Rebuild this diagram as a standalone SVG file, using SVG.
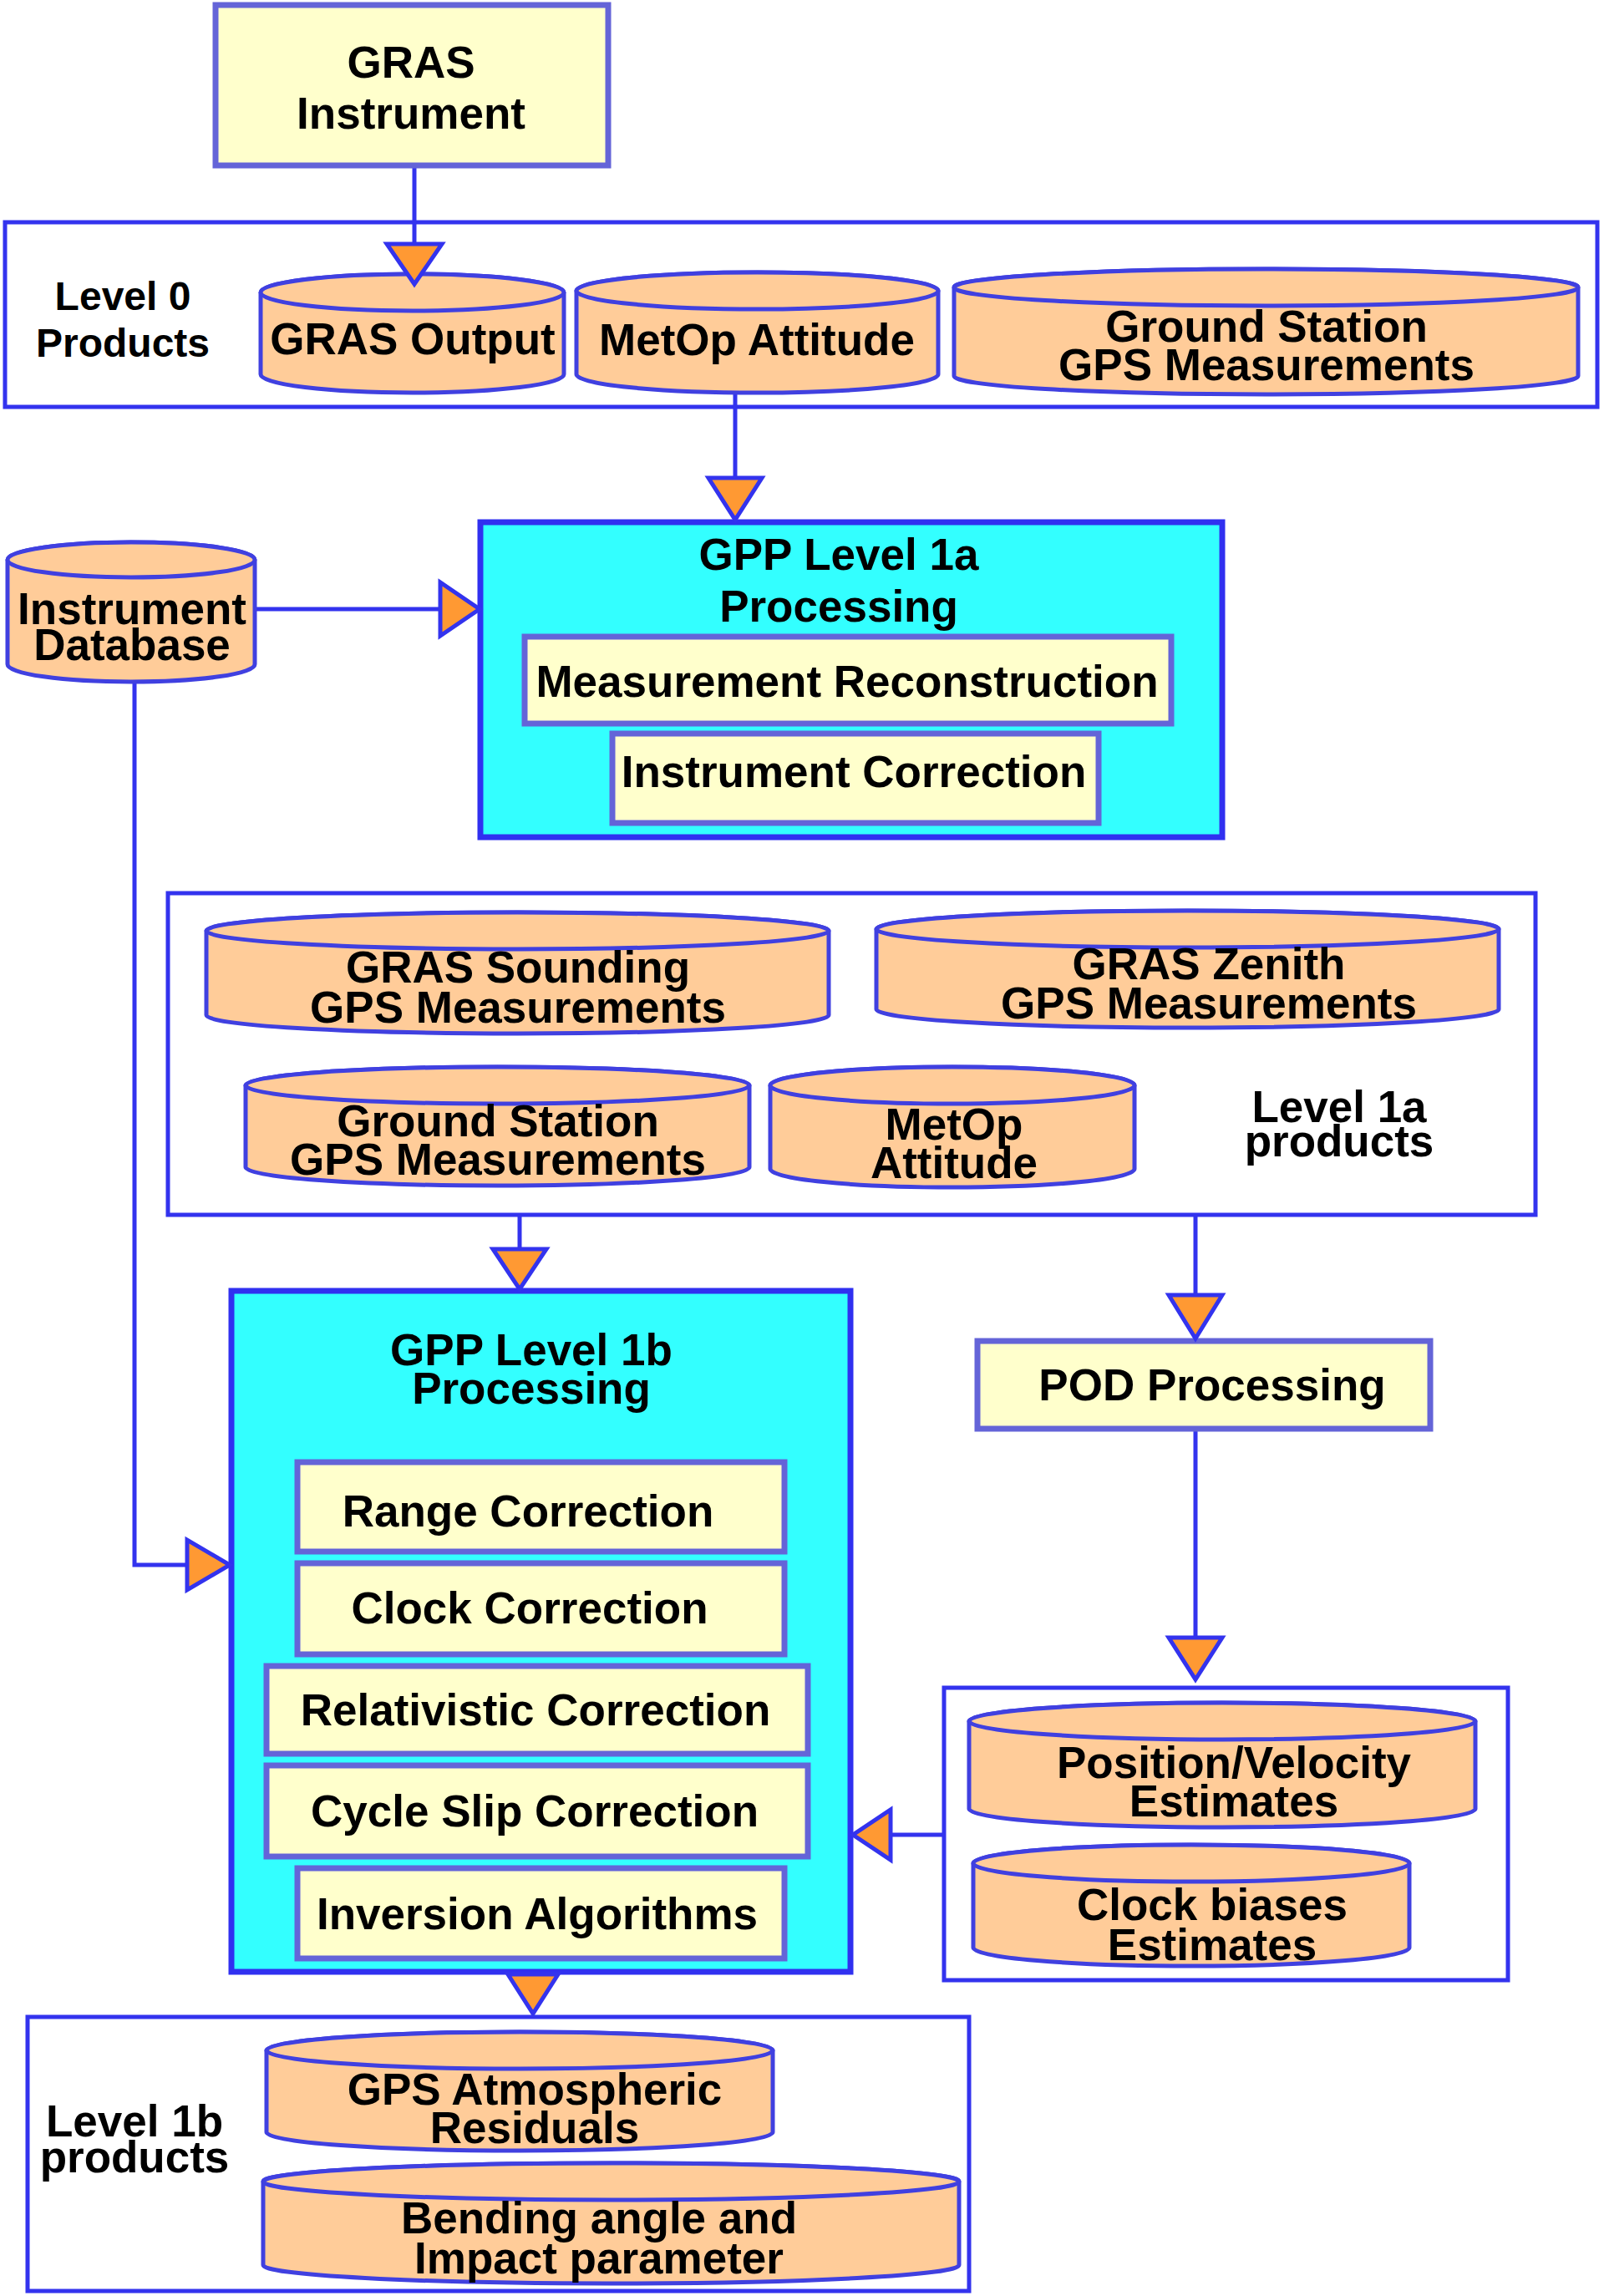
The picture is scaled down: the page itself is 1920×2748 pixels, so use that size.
<svg xmlns="http://www.w3.org/2000/svg" width="1920" height="2748" viewBox="0 0 1920 2748">
<style>
.t{font-family:"Liberation Sans",Arial,sans-serif;font-weight:bold;font-size:53px;fill:#000;text-anchor:middle}
.l{font-family:"Liberation Sans",Arial,sans-serif;font-weight:bold;font-size:48px;fill:#000;text-anchor:middle}
.cont{fill:#fff;stroke:#3333ee;stroke-width:5}
.yb{fill:#ffffcc;stroke:#6464d8;stroke-width:7}
.cy{fill:#33ffff;stroke:#3030f0;stroke-width:7}
.db{fill:#ffcc99;stroke:#4040e0;stroke-width:5}
.cn{fill:none;stroke:#3333ee;stroke-width:5}
.ah{fill:#ff9933;stroke:#3333ee;stroke-width:5;stroke-linejoin:miter}
</style>
<rect width="1920" height="2748" fill="#fff"/>

<g id="level0">
<rect class="cont" x="6" y="266" width="1906" height="221"/>
<text class="l" x="147" y="371">Level 0</text>
<text class="l" x="147" y="427">Products</text>
</g>
<g id="level1a">
<rect class="cont" x="201" y="1069" width="1637" height="385"/>
<text class="t" x="1603" y="1343">Level 1a</text>
<text class="t" x="1603" y="1384">products</text>
</g>
<g id="podproducts">
<rect class="cont" x="1130" y="2020" width="675" height="350"/>
</g>
<g id="level1b">
<rect class="cont" x="33" y="2414" width="1127" height="328"/>
<text class="t" x="161" y="2557">Level 1b</text>
<text class="t" x="161" y="2600">products</text>
</g>

<g id="connectors">
<line class="cn" x1="496" y1="200" x2="496" y2="292"/>
<line class="cn" x1="880" y1="470" x2="880" y2="572"/>
<line class="cn" x1="307" y1="729" x2="527" y2="729"/>
<polyline class="cn" points="161,817 161,1873 224,1873"/>
<line class="cn" x1="622" y1="1454" x2="622" y2="1495"/>
<line class="cn" x1="1431" y1="1454" x2="1431" y2="1550"/>
<line class="cn" x1="1431" y1="1710" x2="1431" y2="1960"/>
<line class="cn" x1="1130" y1="2196" x2="1066" y2="2196"/>
</g>

<g id="gras_instrument">
<rect class="yb" x="258" y="6" width="470" height="192"/>
<text class="t" x="492" y="93">GRAS</text>
<text class="t" x="492" y="154">Instrument</text>
</g>

<g id="gras_output">
<path class="db" d="M312,350 L312,448 A181.5,22 0 0 0 675,448 L675,350 A181.5,22 0 0 0 312,350 Z"/>
<ellipse class="db" cx="493.5" cy="350" rx="181.5" ry="22"/>
<text class="t" x="494" y="424">GRAS Output</text>
</g>
<g id="metop_attitude0">
<path class="db" d="M690,348 L690,448 A216.5,22 0 0 0 1123,448 L1123,348 A216.5,22 0 0 0 690,348 Z"/>
<ellipse class="db" cx="906.5" cy="348" rx="216.5" ry="22"/>
<text class="t" x="906" y="425">MetOp Attitude</text>
</g>
<g id="ground_station0">
<path class="db" d="M1142,344 L1142,450 A373.5,22 0 0 0 1889,450 L1889,344 A373.5,22 0 0 0 1142,344 Z"/>
<ellipse class="db" cx="1515.5" cy="344" rx="373.5" ry="22"/>
<text class="t" x="1516" y="409">Ground Station</text>
<text class="t" x="1516" y="455">GPS Measurements</text>
</g>

<g id="instrument_db">
<path class="db" d="M9,670 L9,795 A148,21 0 0 0 305,795 L305,670 A148,21 0 0 0 9,670 Z"/>
<ellipse class="db" cx="157" cy="670" rx="148" ry="21"/>
<text class="t" x="158" y="747">Instrument</text>
<text class="t" x="158" y="790">Database</text>
</g>

<g id="gpp1a">
<rect class="cy" x="575" y="625" width="888" height="377"/>
<text class="t" x="1004" y="682">GPP Level 1a</text>
<text class="t" x="1004" y="744">Processing</text>
</g>
<g id="meas_recon">
<rect class="yb" x="628" y="762" width="774" height="104"/>
<text class="t" x="1014" y="834">Measurement Reconstruction</text>
</g>
<g id="instr_corr">
<rect class="yb" x="733" y="878" width="582" height="107"/>
<text class="t" x="1022" y="942">Instrument Correction</text>
</g>

<g id="gras_sounding">
<path class="db" d="M247,1114 L247,1215 A372.5,22 0 0 0 992,1215 L992,1114 A372.5,22 0 0 0 247,1114 Z"/>
<ellipse class="db" cx="619.5" cy="1114" rx="372.5" ry="22"/>
<text class="t" x="620" y="1176">GRAS Sounding</text>
<text class="t" x="620" y="1224">GPS Measurements</text>
</g>
<g id="gras_zenith">
<path class="db" d="M1049,1112 L1049,1208 A372.5,22 0 0 0 1794,1208 L1794,1112 A372.5,22 0 0 0 1049,1112 Z"/>
<ellipse class="db" cx="1421.5" cy="1112" rx="372.5" ry="22"/>
<text class="t" x="1447" y="1172">GRAS Zenith</text>
<text class="t" x="1447" y="1219">GPS Measurements</text>
</g>
<g id="ground_station1a">
<path class="db" d="M294,1299 L294,1397 A301.5,22 0 0 0 897,1397 L897,1299 A301.5,22 0 0 0 294,1299 Z"/>
<ellipse class="db" cx="595.5" cy="1299" rx="301.5" ry="22"/>
<text class="t" x="596" y="1360">Ground Station</text>
<text class="t" x="596" y="1406">GPS Measurements</text>
</g>
<g id="metop_attitude1a">
<path class="db" d="M922,1299 L922,1399 A218,22 0 0 0 1358,1399 L1358,1299 A218,22 0 0 0 922,1299 Z"/>
<ellipse class="db" cx="1140" cy="1299" rx="218" ry="22"/>
<text class="t" x="1142" y="1364">MetOp</text>
<text class="t" x="1142" y="1410">Attitude</text>
</g>

<g id="gpp1b">
<rect class="cy" x="277" y="1545" width="741" height="815"/>
<text class="t" x="636" y="1634">GPP Level 1b</text>
<text class="t" x="636" y="1680">Processing</text>
</g>
<g id="range_corr">
<rect class="yb" x="356" y="1750" width="583" height="107"/>
<text class="t" x="632" y="1827">Range Correction</text>
</g>
<g id="clock_corr">
<rect class="yb" x="356" y="1871" width="583" height="109"/>
<text class="t" x="634" y="1943">Clock Correction</text>
</g>
<g id="relat_corr">
<rect class="yb" x="319" y="1994" width="648" height="105"/>
<text class="t" x="641" y="2065">Relativistic Correction</text>
</g>
<g id="cycle_corr">
<rect class="yb" x="319" y="2113" width="648" height="109"/>
<text class="t" x="640" y="2186">Cycle Slip Correction</text>
</g>
<g id="inversion">
<rect class="yb" x="356" y="2236" width="583" height="108"/>
<text class="t" x="643" y="2309">Inversion Algorithms</text>
</g>

<g id="pod">
<rect class="yb" x="1170" y="1605" width="542" height="105"/>
<text class="t" x="1451" y="1676">POD Processing</text>
</g>
<g id="posvel">
<path class="db" d="M1160,2060 L1160,2165 A303,22 0 0 0 1766,2165 L1766,2060 A303,22 0 0 0 1160,2060 Z"/>
<ellipse class="db" cx="1463" cy="2060" rx="303" ry="22"/>
<text class="t" x="1477" y="2128">Position/Velocity</text>
<text class="t" x="1477" y="2174">Estimates</text>
</g>
<g id="clockbias">
<path class="db" d="M1165,2230 L1165,2331 A261,22 0 0 0 1687,2331 L1687,2230 A261,22 0 0 0 1165,2230 Z"/>
<ellipse class="db" cx="1426" cy="2230" rx="261" ry="22"/>
<text class="t" x="1451" y="2298">Clock biases</text>
<text class="t" x="1451" y="2346">Estimates</text>
</g>

<g id="gps_atmo">
<path class="db" d="M319,2454 L319,2552 A303,22 0 0 0 925,2552 L925,2454 A303,22 0 0 0 319,2454 Z"/>
<ellipse class="db" cx="622" cy="2454" rx="303" ry="22"/>
<text class="t" x="640" y="2519">GPS Atmospheric</text>
<text class="t" x="640" y="2565">Residuals</text>
</g>
<g id="bending">
<path class="db" d="M315,2611 L315,2711 A416.5,22 0 0 0 1148,2711 L1148,2611 A416.5,22 0 0 0 315,2611 Z"/>
<ellipse class="db" cx="731.5" cy="2611" rx="416.5" ry="22"/>
<text class="t" x="717" y="2673">Bending angle and</text>
<text class="t" x="717" y="2721">Impact parameter</text>
</g>

<g id="arrowheads">
<polygon class="ah" points="463,292 529,292 496,340"/>
<polygon class="ah" points="848,572 912,572 880,622"/>
<polygon class="ah" points="527,697 527,761 574,729"/>
<polygon class="ah" points="224,1843 224,1903 275,1873"/>
<polygon class="ah" points="590,1495 654,1495 622,1543"/>
<polygon class="ah" points="1399,1550 1463,1550 1431,1602"/>
<polygon class="ah" points="1399,1960 1463,1960 1431,2010"/>
<polygon class="ah" points="1066,2166 1066,2226 1021,2196"/>
<polygon class="ah" points="608,2363 668,2363 638,2410"/>
</g>
</svg>
